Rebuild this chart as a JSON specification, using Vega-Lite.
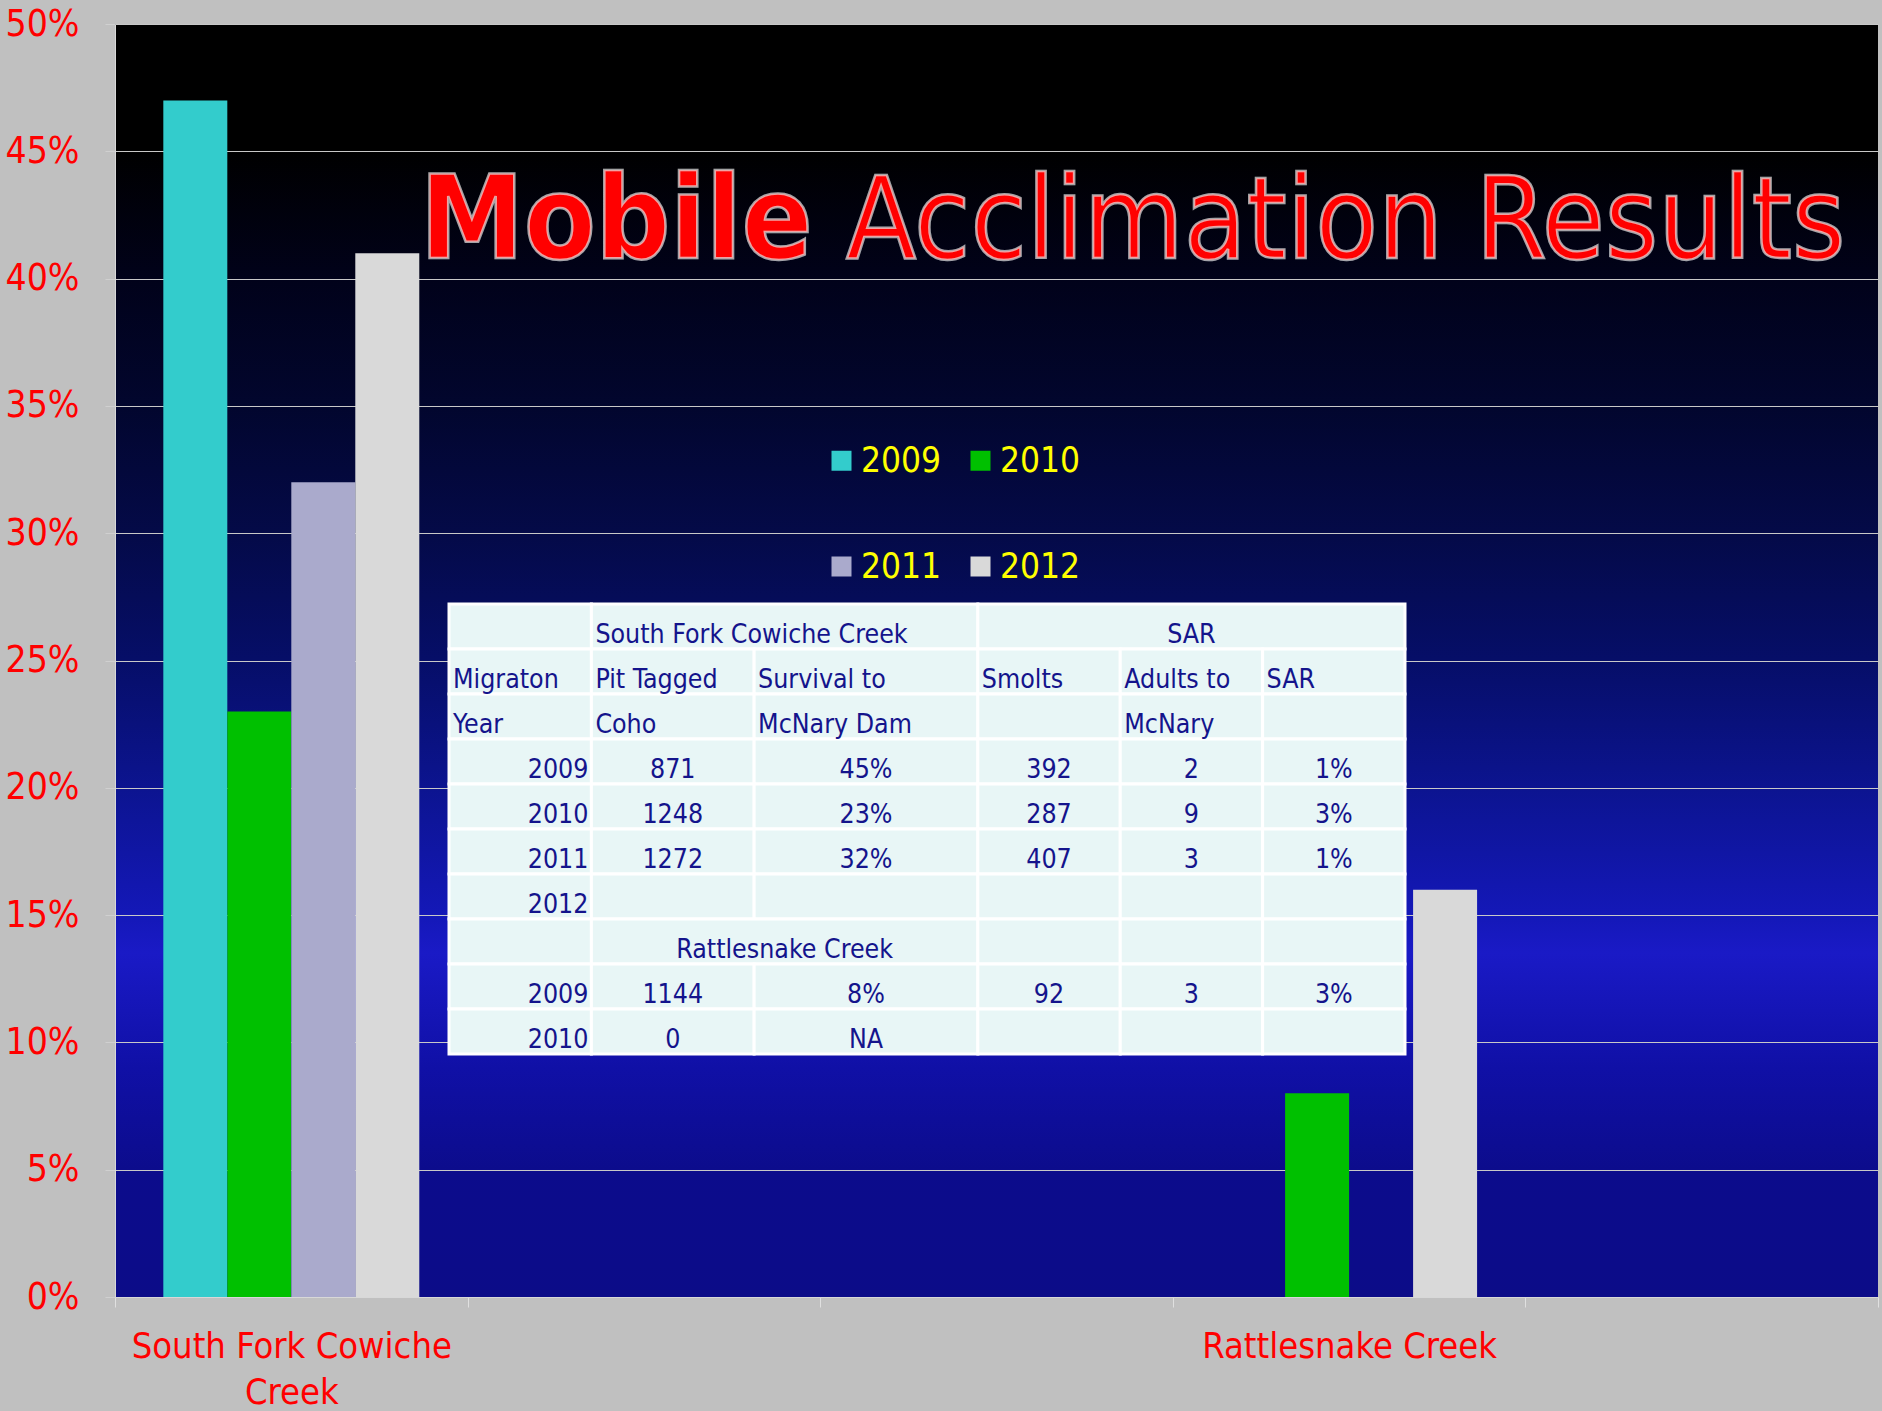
{
  "$schema": "https://vega.github.io/schema/vega-lite/v6.json",
  "width": 1763,
  "height": 1273,
  "autosize": {"type": "none"},
  "padding": {"left": 115, "top": 24, "right": 4, "bottom": 114},
  "background": "#c0c0c0",
  "config": {
    "font": "DejaVu Sans Condensed, DejaVu Sans",
    "view": {
      "stroke": null,
      "fill": {
        "gradient": "linear",
        "x1": 0, "y1": 0, "x2": 0, "y2": 1,
        "stops": [
          {"offset": 0, "color": "#000000"},
          {"offset": 0.1, "color": "#000000"},
          {"offset": 0.2, "color": "#01021a"},
          {"offset": 0.3, "color": "#02062e"},
          {"offset": 0.4, "color": "#040a48"},
          {"offset": 0.5, "color": "#060e68"},
          {"offset": 0.6, "color": "#0c1490"},
          {"offset": 0.7, "color": "#1418b8"},
          {"offset": 0.73, "color": "#1a1ac6"},
          {"offset": 0.82, "color": "#1010a6"},
          {"offset": 0.9, "color": "#0c0c8c"},
          {"offset": 1, "color": "#0c0c88"}
        ]
      }
    }
  },
  "datasets": {
    "bars": [
      {"site": "South Fork Cowiche Creek", "year": "2009", "v": 0.47},
      {"site": "South Fork Cowiche Creek", "year": "2010", "v": 0.23},
      {"site": "South Fork Cowiche Creek", "year": "2011", "v": 0.32},
      {"site": "South Fork Cowiche Creek", "year": "2012", "v": 0.41},
      {"site": "Rattlesnake Creek", "year": "2010", "v": 0.08},
      {"site": "Rattlesnake Creek", "year": "2012", "v": 0.16}
    ],
    "cells": [
      {"r0": 0, "r1": 1, "c0": 0, "c1": 7, "t": "", "a": "l"},
      {"r0": 0, "r1": 1, "c0": 7, "c1": 26, "t": "South Fork Cowiche Creek", "a": "l"},
      {"r0": 0, "r1": 1, "c0": 26, "c1": 47, "t": "SAR", "a": "c"},
      {"r0": 1, "r1": 2, "c0": 0, "c1": 7, "t": "Migraton", "a": "l"},
      {"r0": 1, "r1": 2, "c0": 7, "c1": 15, "t": "Pit Tagged", "a": "l"},
      {"r0": 1, "r1": 2, "c0": 15, "c1": 26, "t": "Survival to", "a": "l"},
      {"r0": 1, "r1": 2, "c0": 26, "c1": 33, "t": "Smolts", "a": "l"},
      {"r0": 1, "r1": 2, "c0": 33, "c1": 40, "t": "Adults to", "a": "l"},
      {"r0": 1, "r1": 2, "c0": 40, "c1": 47, "t": "SAR", "a": "l"},
      {"r0": 2, "r1": 3, "c0": 0, "c1": 7, "t": "Year", "a": "l"},
      {"r0": 2, "r1": 3, "c0": 7, "c1": 15, "t": "Coho", "a": "l"},
      {"r0": 2, "r1": 3, "c0": 15, "c1": 26, "t": "McNary Dam", "a": "l"},
      {"r0": 2, "r1": 3, "c0": 26, "c1": 33, "t": "", "a": "l"},
      {"r0": 2, "r1": 3, "c0": 33, "c1": 40, "t": "McNary", "a": "l"},
      {"r0": 2, "r1": 3, "c0": 40, "c1": 47, "t": "", "a": "l"},
      {"r0": 3, "r1": 4, "c0": 0, "c1": 7, "t": "2009", "a": "r"},
      {"r0": 3, "r1": 4, "c0": 7, "c1": 15, "t": "871", "a": "c"},
      {"r0": 3, "r1": 4, "c0": 15, "c1": 26, "t": "45%", "a": "c"},
      {"r0": 3, "r1": 4, "c0": 26, "c1": 33, "t": "392", "a": "c"},
      {"r0": 3, "r1": 4, "c0": 33, "c1": 40, "t": "2", "a": "c"},
      {"r0": 3, "r1": 4, "c0": 40, "c1": 47, "t": "1%", "a": "c"},
      {"r0": 4, "r1": 5, "c0": 0, "c1": 7, "t": "2010", "a": "r"},
      {"r0": 4, "r1": 5, "c0": 7, "c1": 15, "t": "1248", "a": "c"},
      {"r0": 4, "r1": 5, "c0": 15, "c1": 26, "t": "23%", "a": "c"},
      {"r0": 4, "r1": 5, "c0": 26, "c1": 33, "t": "287", "a": "c"},
      {"r0": 4, "r1": 5, "c0": 33, "c1": 40, "t": "9", "a": "c"},
      {"r0": 4, "r1": 5, "c0": 40, "c1": 47, "t": "3%", "a": "c"},
      {"r0": 5, "r1": 6, "c0": 0, "c1": 7, "t": "2011", "a": "r"},
      {"r0": 5, "r1": 6, "c0": 7, "c1": 15, "t": "1272", "a": "c"},
      {"r0": 5, "r1": 6, "c0": 15, "c1": 26, "t": "32%", "a": "c"},
      {"r0": 5, "r1": 6, "c0": 26, "c1": 33, "t": "407", "a": "c"},
      {"r0": 5, "r1": 6, "c0": 33, "c1": 40, "t": "3", "a": "c"},
      {"r0": 5, "r1": 6, "c0": 40, "c1": 47, "t": "1%", "a": "c"},
      {"r0": 6, "r1": 7, "c0": 0, "c1": 7, "t": "2012", "a": "r"},
      {"r0": 6, "r1": 7, "c0": 7, "c1": 15, "t": "", "a": "c"},
      {"r0": 6, "r1": 7, "c0": 15, "c1": 26, "t": "", "a": "c"},
      {"r0": 6, "r1": 7, "c0": 26, "c1": 33, "t": "", "a": "c"},
      {"r0": 6, "r1": 7, "c0": 33, "c1": 40, "t": "", "a": "c"},
      {"r0": 6, "r1": 7, "c0": 40, "c1": 47, "t": "", "a": "c"},
      {"r0": 7, "r1": 8, "c0": 0, "c1": 7, "t": "", "a": "c"},
      {"r0": 7, "r1": 8, "c0": 7, "c1": 26, "t": "Rattlesnake Creek", "a": "c"},
      {"r0": 7, "r1": 8, "c0": 26, "c1": 33, "t": "", "a": "c"},
      {"r0": 7, "r1": 8, "c0": 33, "c1": 40, "t": "", "a": "c"},
      {"r0": 7, "r1": 8, "c0": 40, "c1": 47, "t": "", "a": "c"},
      {"r0": 8, "r1": 9, "c0": 0, "c1": 7, "t": "2009", "a": "r"},
      {"r0": 8, "r1": 9, "c0": 7, "c1": 15, "t": "1144", "a": "c"},
      {"r0": 8, "r1": 9, "c0": 15, "c1": 26, "t": "8%", "a": "c"},
      {"r0": 8, "r1": 9, "c0": 26, "c1": 33, "t": "92", "a": "c"},
      {"r0": 8, "r1": 9, "c0": 33, "c1": 40, "t": "3", "a": "c"},
      {"r0": 8, "r1": 9, "c0": 40, "c1": 47, "t": "3%", "a": "c"},
      {"r0": 9, "r1": 10, "c0": 0, "c1": 7, "t": "2010", "a": "r"},
      {"r0": 9, "r1": 10, "c0": 7, "c1": 15, "t": "0", "a": "c"},
      {"r0": 9, "r1": 10, "c0": 15, "c1": 26, "t": "NA", "a": "c"},
      {"r0": 9, "r1": 10, "c0": 26, "c1": 33, "t": "", "a": "c"},
      {"r0": 9, "r1": 10, "c0": 33, "c1": 40, "t": "", "a": "c"},
      {"r0": 9, "r1": 10, "c0": 40, "c1": 47, "t": "", "a": "c"}
    ]
  },
  "layer": [
    {
      "layer": [
        {
          "data": {"name": "bars"},
          "mark": {"type": "bar"},
          "encoding": {
            "x": {
              "field": "site",
              "type": "nominal",
              "sort": null,
              "scale": {
                "domain": ["South Fork Cowiche Creek", " ", "  ", "Rattlesnake Creek", "   "],
                "paddingInner": 0,
                "paddingOuter": 0
              },
              "axis": {
                "title": null,
                "tickBand": "extent",
                "labelAngle": 0,
                "labelColor": "#ff0000",
                "labelFont": "DejaVu Sans Condensed, DejaVu Sans",
                "labelFontSize": 36,
                "labelLimit": 0,
                "labelPadding": 22,
                "labelLineHeight": 46,
                "labelExpr": "datum.value == 'South Fork Cowiche Creek' ? ['South Fork Cowiche', 'Creek'] : datum.value",
                "tickSize": 10,
                "tickColor": "#e0e0e0",
                "domainColor": "#d8d8d8",
                "grid": false
              }
            },
            "xOffset": {
              "field": "year",
              "type": "nominal",
              "scale": {"domain": ["2009", "2010", "2011", "2012"], "paddingOuter": 0.755, "paddingInner": 0}
            },
            "y": {
              "field": "v",
              "type": "quantitative",
              "scale": {"domain": [0, 0.5], "nice": false},
              "axis": {
                "title": null,
                "values": [0, 0.05, 0.1, 0.15, 0.2, 0.25, 0.3, 0.35, 0.4, 0.45, 0.5],
                "format": ".0%",
                "labelColor": "#ff0000",
                "labelFont": "DejaVu Sans Condensed, DejaVu Sans",
                "labelFontSize": 37,
                "labelPadding": 26,
                "tickSize": 10,
                "tickColor": "#d0d0d0",
                "domainColor": "#d8d8d8",
                "grid": true,
                "gridColor": "#c8c8c8",
                "gridWidth": 1
              }
            },
            "color": {
              "field": "year",
              "type": "nominal",
              "scale": {"domain": ["2009", "2010", "2011", "2012"], "range": ["#33cccc", "#00c000", "#aaaacc", "#d9d9d9"]},
              "legend": {
                "title": null,
                "orient": "none",
                "legendX": 709,
                "legendY": 419,
                "direction": "horizontal",
                "columns": 2,
                "columnPadding": 21,
                "rowPadding": 70,
                "padding": 0,
                "labelColor": "#ffff00",
                "labelFont": "DejaVu Sans Condensed, DejaVu Sans",
                "labelFontSize": 35,
                "labelOffset": 2,
                "symbolType": "square",
                "symbolSize": 400,
                "symbolStrokeWidth": 0,
                "symbolOpacity": 1
              }
            }
          }
        },
        {
          "data": {"values": [{"t": "Mobile"}]},
          "mark": {"type": "text", "align": "left", "baseline": "alphabetic", "font": "DejaVu Sans Condensed, DejaVu Sans", "fontWeight": "bold", "fontSize": 116, "color": "#ff0000", "stroke": "#e8e8e8", "strokeWidth": 2.5, "strokeOpacity": 0.7},
          "encoding": {
            "x": {"datum": "South Fork Cowiche Creek", "type": "nominal", "bandPosition": 0.865},
            "y": {"datum": 0.408, "type": "quantitative"},
            "text": {"field": "t"}
          }
        },
        {
          "data": {"values": [{"t": "Acclimation Results"}]},
          "mark": {"type": "text", "align": "left", "baseline": "alphabetic", "font": "DejaVu Sans Condensed, DejaVu Sans", "fontWeight": "normal", "fontSize": 114, "color": "#ff0000", "stroke": "#e8e8e8", "strokeWidth": 2.5, "strokeOpacity": 0.7},
          "encoding": {
            "x": {"datum": "  ", "type": "nominal", "bandPosition": 0.073},
            "y": {"datum": 0.408, "type": "quantitative"},
            "text": {"field": "t"}
          }
        }
      ]
    },
    {
      "data": {"name": "cells"},
      "layer": [
        {
          "mark": {"type": "rect", "fill": "#e8f6f6", "stroke": "#ffffff", "strokeWidth": 3},
          "encoding": {
            "x": {"field": "c0", "type": "quantitative", "scale": {"domain": [0, 47], "range": [334, 1290], "nice": false, "zero": false}, "axis": null},
            "x2": {"field": "c1"},
            "y": {"field": "r0", "type": "quantitative", "scale": {"domain": [0, 10], "range": [580, 1030], "nice": false, "zero": false}, "axis": null},
            "y2": {"field": "r1"}
          }
        },
        {
          "transform": [{"filter": "datum.a == 'l' && datum.t != ''"}],
          "mark": {"type": "text", "align": "left", "baseline": "alphabetic", "dx": 4, "dy": -6, "font": "DejaVu Sans Condensed, DejaVu Sans", "fontSize": 26.5, "color": "#14148c"},
          "encoding": {
            "x": {"field": "c0", "type": "quantitative", "axis": null},
            "y": {"field": "r1", "type": "quantitative", "axis": null},
            "text": {"field": "t"}
          }
        },
        {
          "transform": [{"filter": "datum.a == 'r' && datum.t != ''"}],
          "mark": {"type": "text", "align": "right", "baseline": "alphabetic", "dx": -3, "dy": -6, "font": "DejaVu Sans Condensed, DejaVu Sans", "fontSize": 26.5, "color": "#14148c"},
          "encoding": {
            "x": {"field": "c1", "type": "quantitative", "axis": null},
            "y": {"field": "r1", "type": "quantitative", "axis": null},
            "text": {"field": "t"}
          }
        },
        {
          "transform": [
            {"filter": "datum.a == 'c' && datum.t != ''"},
            {"calculate": "(datum.c0 + datum.c1) / 2", "as": "cx"}
          ],
          "mark": {"type": "text", "align": "center", "baseline": "alphabetic", "dy": -6, "font": "DejaVu Sans Condensed, DejaVu Sans", "fontSize": 26.5, "color": "#14148c"},
          "encoding": {
            "x": {"field": "cx", "type": "quantitative", "axis": null},
            "y": {"field": "r1", "type": "quantitative", "axis": null},
            "text": {"field": "t"}
          }
        }
      ]
    }
  ],
  "resolve": {"scale": {"x": "independent", "y": "independent", "color": "independent"}}
}
